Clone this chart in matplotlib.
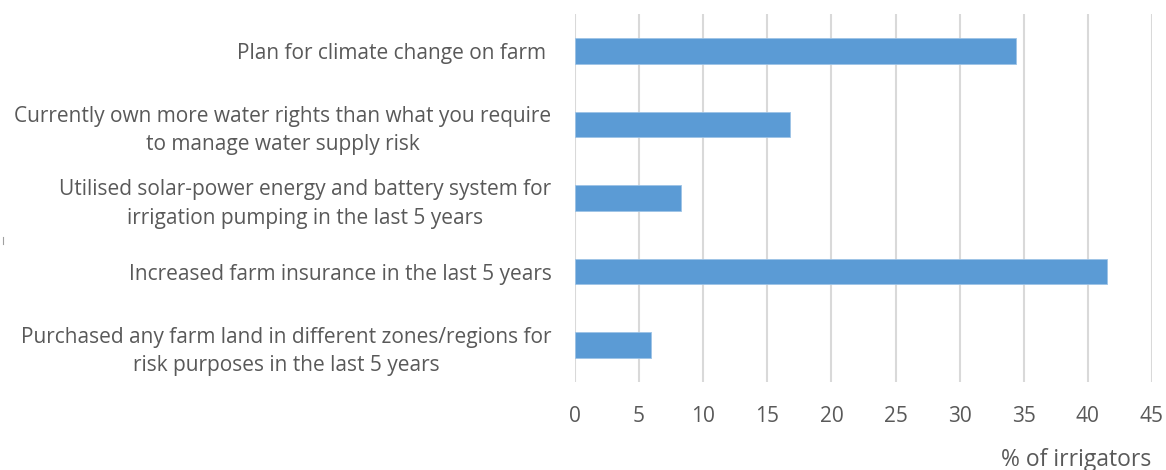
import numpy as np
import matplotlib.pyplot as plt
from matplotlib.lines import Line2D

categories = [
    "Plan for climate change on farm ",
    "Currently own more water rights than what you require\nto manage water supply risk",
    "Utilised solar-power energy and battery system for\nirrigation pumping in the last 5 years",
    "Increased farm insurance in the last 5 years",
    "Purchased any farm land in different zones/regions for\nrisk purposes in the last 5 years",
]
values = [34.4, 16.8, 8.3, 41.5, 5.9]
xticks = [0, 5, 10, 15, 20, 25, 30, 35, 40, 45]

plt.rcParams['font.family'] = ['Open Sans', 'DejaVu Sans']
text_col = '#595959'
fs = 15

fig = plt.figure(figsize=[11.66, 4.70], dpi=100)
ax = fig.add_axes([575 / 1166, 1 - 382 / 470, 577 / 1166, 368 / 470])

y = np.arange(len(categories))
ax.barh(y, values, height=0.35, color='#5B9BD5', edgecolor='#9DC3E6', linewidth=0.6, zorder=3)

ax.set_xlim(0, 45)
ax.set_ylim(len(categories) - 0.5, -0.5)
ax.set_xticks(xticks)
ax.set_xticklabels([str(t) for t in xticks], fontsize=fs, color=text_col)
ax.set_yticks(y)
ax.set_yticklabels(categories, fontsize=fs, color=text_col, multialignment='center',
                   linespacing=1.45)
ax.tick_params(axis='both', length=0)
ax.tick_params(axis='x', pad=17)
ax.tick_params(axis='y', pad=17)

ax.grid(axis='x', color='#D9D9D9', linewidth=1.5, zorder=0)
for s in ax.spines.values():
    s.set_visible(False)

fig.text(1151 / 1166, 1 - 460 / 470, "% of irrigators", ha='right', va='center',
         fontsize=16.5, color=text_col)

# small stray mark at left edge
fig.add_artist(Line2D([2.5 / 1166, 2.5 / 1166], [1 - 237 / 470, 1 - 244 / 470],
                      color='#A0A0A0', linewidth=0.8))

plt.savefig('out.png', dpi=100)
